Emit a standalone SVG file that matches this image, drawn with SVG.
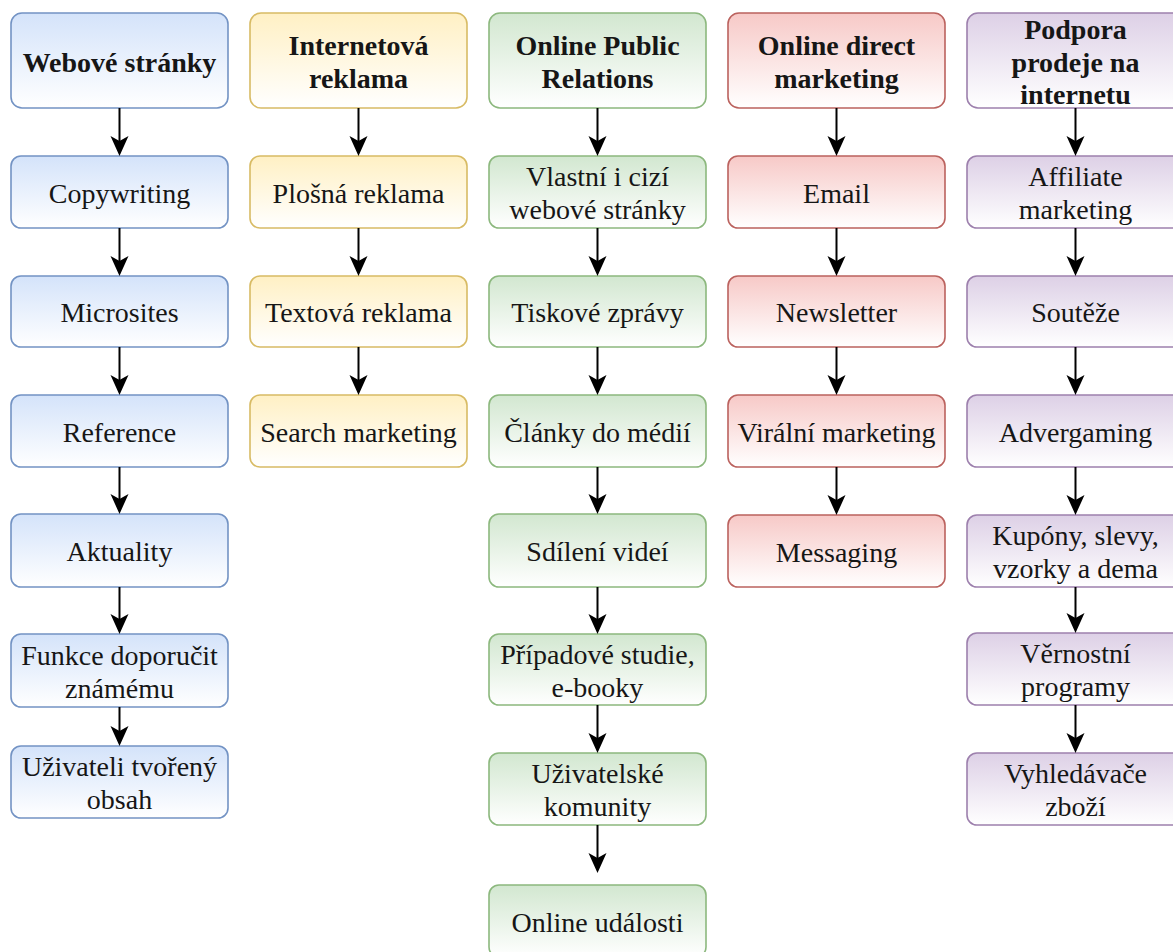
<svg xmlns="http://www.w3.org/2000/svg" width="1173" height="952" viewBox="0 0 1173 952">
<defs>
<linearGradient id="gBlue" x1="0" y1="0" x2="0" y2="1"><stop offset="0" stop-color="#d4e3fa"/><stop offset="1" stop-color="#ffffff"/></linearGradient>
<linearGradient id="gYellow" x1="0" y1="0" x2="0" y2="1"><stop offset="0" stop-color="#fff0c4"/><stop offset="1" stop-color="#ffffff"/></linearGradient>
<linearGradient id="gGreen" x1="0" y1="0" x2="0" y2="1"><stop offset="0" stop-color="#d2e7d0"/><stop offset="1" stop-color="#ffffff"/></linearGradient>
<linearGradient id="gRed" x1="0" y1="0" x2="0" y2="1"><stop offset="0" stop-color="#f7c9c7"/><stop offset="1" stop-color="#ffffff"/></linearGradient>
<linearGradient id="gPurple" x1="0" y1="0" x2="0" y2="1"><stop offset="0" stop-color="#ddd0e6"/><stop offset="1" stop-color="#ffffff"/></linearGradient>
<marker id="arr" markerUnits="userSpaceOnUse" markerWidth="20" markerHeight="18" refX="10" refY="9" orient="auto" overflow="visible">
<path d="M0,0 L20,9 L0,18 L5,9 Z" fill="#000"/>
</marker>
</defs>
<style>
rect{stroke-width:1.6}
.blue{fill:url(#gBlue);stroke:#7393c4}
.yellow{fill:url(#gYellow);stroke:#d8bb64}
.green{fill:url(#gGreen);stroke:#8cb87e}
.red{fill:url(#gRed);stroke:#bb625e}
.purple{fill:url(#gPurple);stroke:#9d80ad}
text{font-family:"Liberation Serif","Times New Roman",Times,"Nimbus Roman","Nimbus Roman No9 L","Noto Serif","FreeSerif","DejaVu Serif","Noto Serif CJK SC",serif;font-size:28px;fill:#161616;text-anchor:middle}
.h{font-weight:bold}
.conn line{stroke:#000;stroke-width:2;marker-end:url(#arr)}
</style>
<rect width="1173" height="952" fill="#ffffff"/>

<!-- Column 1 -->
<g id="webove-stranky"><rect class="blue" x="11" y="13" width="217" height="95" rx="11"/><text class="h" x="119.5" y="72">Webové stránky</text></g>
<g id="copywriting"><rect class="blue" x="11" y="156" width="217" height="72" rx="10"/><text x="119.5" y="203">Copywriting</text></g>
<g id="microsites"><rect class="blue" x="11" y="276" width="217" height="71" rx="10"/><text x="119.5" y="322">Microsites</text></g>
<g id="reference"><rect class="blue" x="11" y="395" width="217" height="72" rx="10"/><text x="119.5" y="442">Reference</text></g>
<g id="aktuality"><rect class="blue" x="11" y="514" width="217" height="73" rx="10"/><text x="119.5" y="561">Aktuality</text></g>
<g id="funkce-doporucit"><rect class="blue" x="11" y="634" width="217" height="73" rx="10"/><text x="119.5" y="665">Funkce doporučit</text><text x="119.5" y="698">známému</text></g>
<g id="uzivateli-tvoreny"><rect class="blue" x="11" y="746" width="217" height="72" rx="10"/><text x="119.5" y="776">Uživateli tvořený</text><text x="119.5" y="809">obsah</text></g>

<!-- Column 2 -->
<g id="internetova-reklama"><rect class="yellow" x="250" y="13" width="217" height="95" rx="11"/><text class="h" x="358.5" y="55">Internetová</text><text class="h" x="358.5" y="88">reklama</text></g>
<g id="plosna-reklama"><rect class="yellow" x="250" y="156" width="217" height="72" rx="10"/><text x="358.5" y="203">Plošná reklama</text></g>
<g id="textova-reklama"><rect class="yellow" x="250" y="276" width="217" height="71" rx="10"/><text x="358.5" y="322">Textová reklama</text></g>
<g id="search-marketing"><rect class="yellow" x="250" y="395" width="217" height="72" rx="10"/><text x="358.5" y="442">Search marketing</text></g>

<!-- Column 3 -->
<g id="online-pr"><rect class="green" x="489" y="13" width="217" height="95" rx="11"/><text class="h" x="597.5" y="55">Online Public</text><text class="h" x="597.5" y="88">Relations</text></g>
<g id="vlastni-cizi"><rect class="green" x="489" y="156" width="217" height="72" rx="10"/><text x="597.5" y="186">Vlastní i cizí</text><text x="597.5" y="219">webové stránky</text></g>
<g id="tiskove-zpravy"><rect class="green" x="489" y="276" width="217" height="71" rx="10"/><text x="597.5" y="322">Tiskové zprávy</text></g>
<g id="clanky"><rect class="green" x="489" y="395" width="217" height="72" rx="10"/><text x="597.5" y="442">Články do médií</text></g>
<g id="sdileni-videi"><rect class="green" x="489" y="514" width="217" height="73" rx="10"/><text x="597.5" y="561">Sdílení videí</text></g>
<g id="pripadove-studie"><rect class="green" x="489" y="634" width="217" height="71" rx="10"/><text x="597.5" y="664">Případové studie,</text><text x="597.5" y="697">e-booky</text></g>
<g id="uzivatelske-komunity"><rect class="green" x="489" y="753" width="217" height="72" rx="10"/><text x="597.5" y="783">Uživatelské</text><text x="597.5" y="816">komunity</text></g>
<g id="online-udalosti"><rect class="green" x="489" y="885" width="217" height="72" rx="10"/><text x="597.5" y="932">Online události</text></g>

<!-- Column 4 -->
<g id="online-direct"><rect class="red" x="728" y="13" width="217" height="95" rx="11"/><text class="h" x="836.5" y="55">Online direct</text><text class="h" x="836.5" y="88">marketing</text></g>
<g id="email"><rect class="red" x="728" y="156" width="217" height="72" rx="10"/><text x="836.5" y="203">Email</text></g>
<g id="newsletter"><rect class="red" x="728" y="276" width="217" height="71" rx="10"/><text x="836.5" y="322">Newsletter</text></g>
<g id="viralni-marketing"><rect class="red" x="728" y="395" width="217" height="72" rx="10"/><text x="836.5" y="442">Virální marketing</text></g>
<g id="messaging"><rect class="red" x="728" y="515" width="217" height="72" rx="10"/><text x="836.5" y="562">Messaging</text></g>

<!-- Column 5 -->
<g id="podpora-prodeje"><rect class="purple" x="967" y="13" width="217" height="95" rx="11"/><text class="h" x="1075.5" y="39">Podpora</text><text class="h" x="1075.5" y="72">prodeje na</text><text class="h" x="1075.5" y="104">internetu</text></g>
<g id="affiliate"><rect class="purple" x="967" y="156" width="217" height="72" rx="10"/><text x="1075.5" y="186">Affiliate</text><text x="1075.5" y="219">marketing</text></g>
<g id="souteze"><rect class="purple" x="967" y="276" width="217" height="71" rx="10"/><text x="1075.5" y="322">Soutěže</text></g>
<g id="advergaming"><rect class="purple" x="967" y="395" width="217" height="72" rx="10"/><text x="1075.5" y="442">Advergaming</text></g>
<g id="kupony"><rect class="purple" x="967" y="515" width="217" height="72" rx="10"/><text x="1075.5" y="545">Kupóny, slevy,</text><text x="1075.5" y="578">vzorky a dema</text></g>
<g id="vernostni"><rect class="purple" x="967" y="633" width="217" height="72" rx="10"/><text x="1075.5" y="663">Věrnostní</text><text x="1075.5" y="696">programy</text></g>
<g id="vyhledavace"><rect class="purple" x="967" y="753" width="217" height="72" rx="10"/><text x="1075.5" y="783">Vyhledávače</text><text x="1075.5" y="816">zboží</text></g>

<g id="connectors" class="conn">
<line x1="119.5" y1="108" x2="119.5" y2="146"/>
<line x1="119.5" y1="228" x2="119.5" y2="266"/>
<line x1="119.5" y1="347" x2="119.5" y2="385"/>
<line x1="119.5" y1="467" x2="119.5" y2="504"/>
<line x1="119.5" y1="587" x2="119.5" y2="624"/>
<line x1="119.5" y1="707" x2="119.5" y2="736"/>

<line x1="358.5" y1="108" x2="358.5" y2="146"/>
<line x1="358.5" y1="228" x2="358.5" y2="266"/>
<line x1="358.5" y1="347" x2="358.5" y2="385"/>

<line x1="597.5" y1="108" x2="597.5" y2="146"/>
<line x1="597.5" y1="228" x2="597.5" y2="266"/>
<line x1="597.5" y1="347" x2="597.5" y2="385"/>
<line x1="597.5" y1="467" x2="597.5" y2="504"/>
<line x1="597.5" y1="587" x2="597.5" y2="624"/>
<line x1="597.5" y1="705" x2="597.5" y2="743"/>
<line x1="597.5" y1="825" x2="597.5" y2="863"/>

<line x1="836.5" y1="108" x2="836.5" y2="146"/>
<line x1="836.5" y1="228" x2="836.5" y2="266"/>
<line x1="836.5" y1="347" x2="836.5" y2="385"/>
<line x1="836.5" y1="467" x2="836.5" y2="505"/>

<line x1="1075.5" y1="108" x2="1075.5" y2="146"/>
<line x1="1075.5" y1="228" x2="1075.5" y2="266"/>
<line x1="1075.5" y1="347" x2="1075.5" y2="385"/>
<line x1="1075.5" y1="467" x2="1075.5" y2="505"/>
<line x1="1075.5" y1="587" x2="1075.5" y2="623"/>
<line x1="1075.5" y1="705" x2="1075.5" y2="743"/>
</g>
</svg>
